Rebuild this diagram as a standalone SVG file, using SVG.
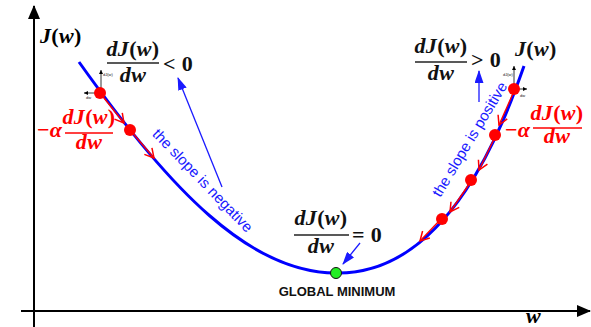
<svg xmlns="http://www.w3.org/2000/svg" width="591" height="327" viewBox="0 0 591 327">
<style>
.m{font-family:"Liberation Serif","DejaVu Serif",serif;font-weight:bold;font-size:22px;letter-spacing:0.3px;}
.i{font-style:italic;}
.blk{fill:#111;}
.red{fill:#ff0000;}
.bar{stroke:#222;stroke-width:1.5;}
.rbar{stroke:#ff0000;stroke-width:1.5;}
.lbl{font-family:"Liberation Sans",Arial,sans-serif;font-size:15px;fill:#1a1aff;}
.tiny{font-family:"Liberation Sans",Arial,sans-serif;font-size:4px;fill:#111;}
.rarr{stroke:#ff0000;stroke-width:1.4;fill:none;marker-end:url(#ra);}
.barr{stroke:#1a1aff;stroke-width:1.3;fill:none;marker-end:url(#ba);}
.sarr{stroke:#000;stroke-width:0.8;fill:none;marker-end:url(#sa);}
</style>
<defs>
<marker id="ra" markerUnits="userSpaceOnUse" markerWidth="12" markerHeight="12" viewBox="0 0 12 12" refX="10" refY="6" orient="auto">
<path d="M1,1 L10,6 L1,11" fill="none" stroke="#ff0000" stroke-width="1.5"/>
</marker>
<marker id="ba" markerUnits="userSpaceOnUse" markerWidth="13" markerHeight="9" viewBox="0 0 13 9" refX="12" refY="4.5" orient="auto">
<path d="M0,0 L13,4.5 L0,9 Z" fill="#1a1aff"/>
</marker>
<marker id="sa" markerUnits="userSpaceOnUse" markerWidth="4" markerHeight="4" viewBox="0 0 4 4" refX="4" refY="2" orient="auto">
<path d="M0,0 L4,2 L0,4 Z" fill="#000"/>
</marker>
<marker id="axa" markerUnits="userSpaceOnUse" markerWidth="14" markerHeight="12" viewBox="0 0 14 12" refX="13" refY="6" orient="auto">
<path d="M0,0 L14,6 L0,12 Z" fill="#000"/>
</marker>
</defs>

<g id="axes">
<line x1="34" y1="327" x2="34" y2="6" stroke="#000" stroke-width="2" marker-end="url(#axa)"/>
<line x1="21" y1="311" x2="590" y2="311" stroke="#000" stroke-width="2" marker-end="url(#axa)"/>
<text class="m" x="40" y="43"><tspan class="i">J</tspan>(<tspan class="i">w</tspan>)</text>
<text class="m" x="526" y="323"><tspan class="i">w</tspan></text>
</g>

<g id="curve">
<path d="M79,62 C170,190 250,273 336,273 C450,275 505,120 524,66" fill="none" stroke="#0000ff" stroke-width="3"/>
</g>

<g id="connectors">
<line class="rarr" x1="100" y1="93" x2="124" y2="123"/>
<line class="rarr" x1="130" y1="130" x2="154" y2="158"/>
<line class="rarr" x1="515" y1="89" x2="499" y2="125"/>
<line class="rarr" x1="496" y1="135" x2="479" y2="170"/>
<line class="rarr" x1="472" y1="180" x2="450" y2="212"/>
<line class="rarr" x1="441" y1="219" x2="420" y2="241"/>
<line class="barr" x1="222" y1="187" x2="178" y2="78"/>
<line class="barr" x1="479" y1="102" x2="479" y2="71"/>
<line class="barr" x1="360" y1="243" x2="343" y2="264"/>
<line class="sarr" x1="101" y1="93" x2="101" y2="70"/>
<line class="sarr" x1="101" y1="93" x2="84" y2="93"/>
<line class="sarr" x1="514" y1="89" x2="514" y2="66"/>
<line class="sarr" x1="514" y1="89" x2="527" y2="89"/>
</g>

<g id="dot-left-1"><circle cx="100" cy="93" r="6" fill="#ff0000"/>
<text class="tiny" x="103" y="76">dJ(w)</text><text class="tiny" x="86" y="99">dw</text></g>
<g id="dot-left-2"><circle cx="130" cy="130" r="6" fill="#ff0000"/></g>
<g id="dot-right-1"><circle cx="514" cy="89" r="6" fill="#ff0000"/>
<text class="tiny" x="503" y="76">dJ(w)</text><text class="tiny" x="520" y="97">dw</text></g>
<g id="dot-right-2"><circle cx="495" cy="135" r="6" fill="#ff0000"/></g>
<g id="dot-right-3"><circle cx="471" cy="180" r="6" fill="#ff0000"/></g>
<g id="dot-right-4"><circle cx="442" cy="219" r="6" fill="#ff0000"/></g>
<g id="global-min"><circle cx="336" cy="273" r="5.5" fill="#22ee22" stroke="#111" stroke-width="1"/>
<text x="337" y="296" text-anchor="middle" font-family="Liberation Sans,Arial,sans-serif" font-weight="bold" font-size="13px" fill="#111">GLOBAL MINIMUM</text></g>

<g id="deriv-neg">
<text class="m blk" x="133" y="56" text-anchor="middle"><tspan class="i">dJ</tspan>(<tspan class="i">w</tspan>)</text>
<line class="bar" x1="107" y1="63" x2="159" y2="63"/>
<text class="m blk" x="133" y="82" text-anchor="middle"><tspan class="i">dw</tspan></text>
<text class="m blk" x="163" y="71">&lt; 0</text>
</g>

<g id="deriv-pos">
<text class="m blk" x="441" y="53" text-anchor="middle"><tspan class="i">dJ</tspan>(<tspan class="i">w</tspan>)</text>
<line class="bar" x1="415" y1="62" x2="467" y2="62"/>
<text class="m blk" x="441" y="80" text-anchor="middle"><tspan class="i">dw</tspan></text>
<text class="m blk" x="471" y="67">&gt; 0</text>
<text class="m blk" x="515" y="56"><tspan class="i">J</tspan>(<tspan class="i">w</tspan>)</text>
</g>

<g id="deriv-zero">
<text class="m blk" x="321" y="225" text-anchor="middle"><tspan class="i">dJ</tspan>(<tspan class="i">w</tspan>)</text>
<line class="bar" x1="294" y1="235" x2="349" y2="235"/>
<text class="m blk" x="321" y="253" text-anchor="middle"><tspan class="i">dw</tspan></text>
<text class="m blk" x="352" y="242">= 0</text>
</g>

<g id="step-left">
<text class="m red" x="37" y="137">−<tspan class="i">α</tspan></text>
<text class="m red" x="89" y="124" text-anchor="middle"><tspan class="i">dJ</tspan>(<tspan class="i">w</tspan>)</text>
<line class="rbar" x1="65" y1="133" x2="113" y2="133"/>
<text class="m red" x="89" y="149" text-anchor="middle"><tspan class="i">dw</tspan></text>
</g>

<g id="step-right">
<text class="m red" x="505" y="137">−<tspan class="i">α</tspan></text>
<text class="m red" x="557" y="120" text-anchor="middle"><tspan class="i">dJ</tspan>(<tspan class="i">w</tspan>)</text>
<line class="rbar" x1="533" y1="128" x2="582" y2="128"/>
<text class="m red" x="557" y="143" text-anchor="middle"><tspan class="i">dw</tspan></text>
</g>

<g id="slope-neg">
<text class="lbl" text-anchor="middle" transform="translate(199,184) rotate(46)">the slope is negative</text>
</g>
<g id="slope-pos">
<text class="lbl" text-anchor="middle" transform="translate(474,142) rotate(-59)">the slope is positive</text>
</g>
</svg>
